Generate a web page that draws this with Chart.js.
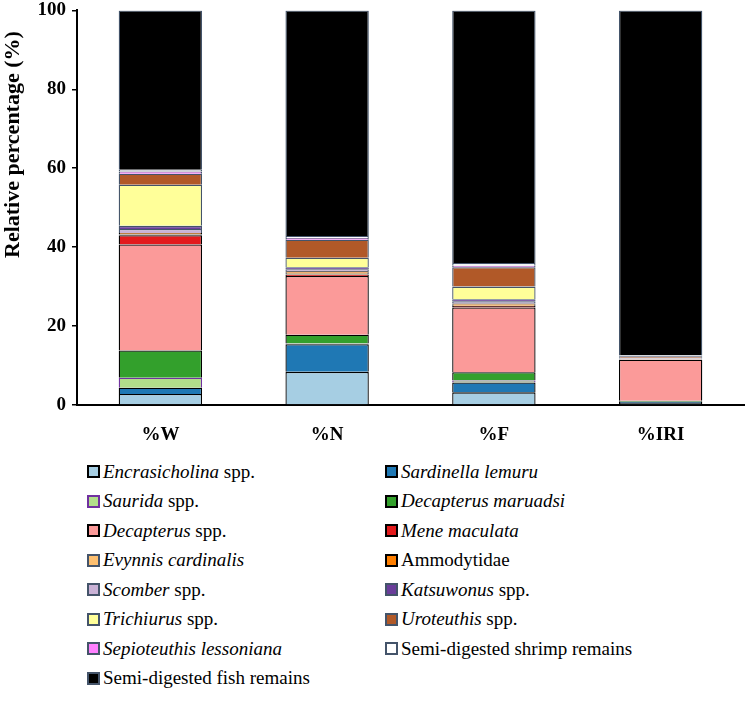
<!DOCTYPE html>
<html>
<head>
<meta charset="utf-8">
<script src="https://cdn.jsdelivr.net/npm/chart.js@4"></script>
<style>
  body { margin: 0; background: #fff; }
  #wrap { position: relative; width: 747px; height: 701px; overflow: hidden; }
  #chartBox { position: absolute; left: 0; top: -7px; width: 747px; height: 457px; }
  #legend {
    position: absolute; left: 87px; top: 457px; width: 660px;
    display: grid; grid-template-columns: 298px 360px; grid-auto-rows: 29.5px;
    font-family: "Liberation Serif", "Times New Roman", serif; font-size: 19px; color: #000;
  }
  .item { display: flex; align-items: center; white-space: nowrap; }
  .box { width: 9px; height: 9px; border: 2px solid #000; margin-right: 3px; flex: none; }
</style>
</head>
<body>
<div id="wrap">
  <div id="chartBox"><canvas id="myChart"></canvas></div>
  <div id="legend"></div>
</div>
<script>
//categories and series values (relative %)
const categories = ['%W', '%N', '%F', '%IRI'];

const encrasicholina = [2.8, 8.4, 3.2, 0.5];
const sardinella = [1.6, 7.0, 2.5, 0.3];
const saurida = [2.5, 0.2, 0.5, 0.05];
const decMaruadsi = [6.9, 2.2, 2.1, 0.2];
const decapterus = [26.9, 14.9, 16.4, 10.4];
const mene = [2.3, 0.4, 0.4, 0.1];
const evynnis = [0.3, 0.4, 0.3, 0.05];
const ammodytidae = [0.3, 0.4, 0.3, 0.05];
const scomber = [1.0, 0.5, 0.6, 0.1];
const katsuwonus = [0.8, 0.5, 0.5, 0.1];
const trichiurus = [10.4, 2.4, 3.2, 0.1];
const uroteuthis = [2.8, 4.6, 4.9, 0.4];
const sepioteuthis = [0.6, 0.4, 0.4, 0.1];
const shrimp = [0.4, 0.5, 0.7, 0.15];
const fish = [40.4, 57.2, 64.0, 87.4];

const yTicks = [0, 20, 40, 60, 80, 100];
const yTitle = 'Relative percentage (%)';

//legend names: italic part + plain part
const namesItalic = ['Encrasicholina', 'Sardinella lemuru', 'Saurida', 'Decapterus maruadsi', 'Decapterus',
  'Mene maculata', 'Evynnis cardinalis', '', 'Scomber', 'Katsuwonus', 'Trichiurus', 'Uroteuthis',
  'Sepioteuthis lessoniana', '', ''];
const namesPlain = [' spp.', '', ' spp.', '', ' spp.', '', '', 'Ammodytidae', ' spp.', ' spp.', ' spp.', ' spp.',
  '', 'Semi-digested shrimp remains', 'Semi-digested fish remains'];

const seriesData = [encrasicholina, sardinella, saurida, decMaruadsi, decapterus, mene, evynnis, ammodytidae,
  scomber, katsuwonus, trichiurus, uroteuthis, sepioteuthis, shrimp, fish];

const slate = '#44546A';
const fills = ['#A6CEE3', '#1F78B4', '#B2DF8A', '#33A02C', '#FB9A99', '#E31A1C', '#FDBF6F', '#FF7F00',
  '#CAB2D6', '#6A3D9A', '#FFFF99', '#B15928', '#FF80FF', '#FFFFFF', '#000000'];
const borders = ['#000', '#000', '#7030A0', '#000', '#000', '#000', slate, '#000',
  slate, slate, slate, slate, slate, slate, slate];

const serif = "'Liberation Serif', 'Times New Roman', serif";

const datasets = seriesData.map((d, i) => ({
  label: (namesItalic[i] + namesPlain[i]).trim(),
  data: d,
  backgroundColor: fills[i],
  borderColor: borders[i],
  borderWidth: 1.3,
  barPercentage: 0.5,
  categoryPercentage: 1.0
}));

const tickFont = { family: serif, size: 19, weight: 'bold' };

// y title drawn by hand: in the original it sits above the axis centre
const yTitlePlugin = {
  id: 'yTitle',
  afterDraw(chart) {
    const c = chart.ctx;
    const area = chart.chartArea;
    c.save();
    c.translate(13, area.top + (area.bottom - area.top) * 0.34);
    c.rotate(-Math.PI / 2);
    c.font = 'bold 22px ' + serif;
    c.fillStyle = '#000';
    c.textAlign = 'center';
    c.textBaseline = 'middle';
    c.fillText(yTitle, 0, 0);
    c.restore();
  }
};

const ctx = document.getElementById('myChart').getContext('2d');
const myChart = new Chart(ctx, {
  type: 'bar',
  data: { labels: categories, datasets: datasets },
  plugins: [yTitlePlugin],
  options: {
    responsive: true,
    maintainAspectRatio: false,
    animation: false,
    layout: { padding: { top: 2, right: 3, left: 0, bottom: 0 } },
    plugins: { legend: { display: false }, tooltip: { enabled: false } },
    scales: {
      x: {
        stacked: true,
        grid: { display: false },
        border: { display: true, color: '#000', width: 2 },
        ticks: { color: '#000', font: tickFont, padding: 11 },
        afterFit: (scale) => { scale.height = 45; }
      },
      y: {
        stacked: true,
        min: 0,
        max: 100,
        afterBuildTicks: (scale) => { scale.ticks = yTicks.map(v => ({ value: v })); },
        grid: { drawOnChartArea: false, drawTicks: true, tickLength: 5, color: '#000', lineWidth: 1.5 },
        border: { display: true, color: '#000', width: 2 },
        ticks: { color: '#000', font: tickFont, padding: 6 },
        afterFit: (scale) => { scale.width = 77; }
      }
    }
  }
});

//html legend (mixed italic / plain text)
const legendEl = document.getElementById('legend');
seriesData.forEach((d, i) => {
  const item = document.createElement('div');
  item.className = 'item';
  const box = document.createElement('span');
  box.className = 'box';
  box.style.background = fills[i];
  box.style.borderColor = borders[i];
  item.appendChild(box);
  if (namesItalic[i]) {
    const it = document.createElement('i');
    it.textContent = namesItalic[i];
    item.appendChild(it);
  }
  if (namesPlain[i]) {
    const pl = document.createElement('span');
    pl.textContent = namesPlain[i];
    pl.style.whiteSpace = 'pre';
    item.appendChild(pl);
  }
  legendEl.appendChild(item);
});
</script>
</body>
</html>
